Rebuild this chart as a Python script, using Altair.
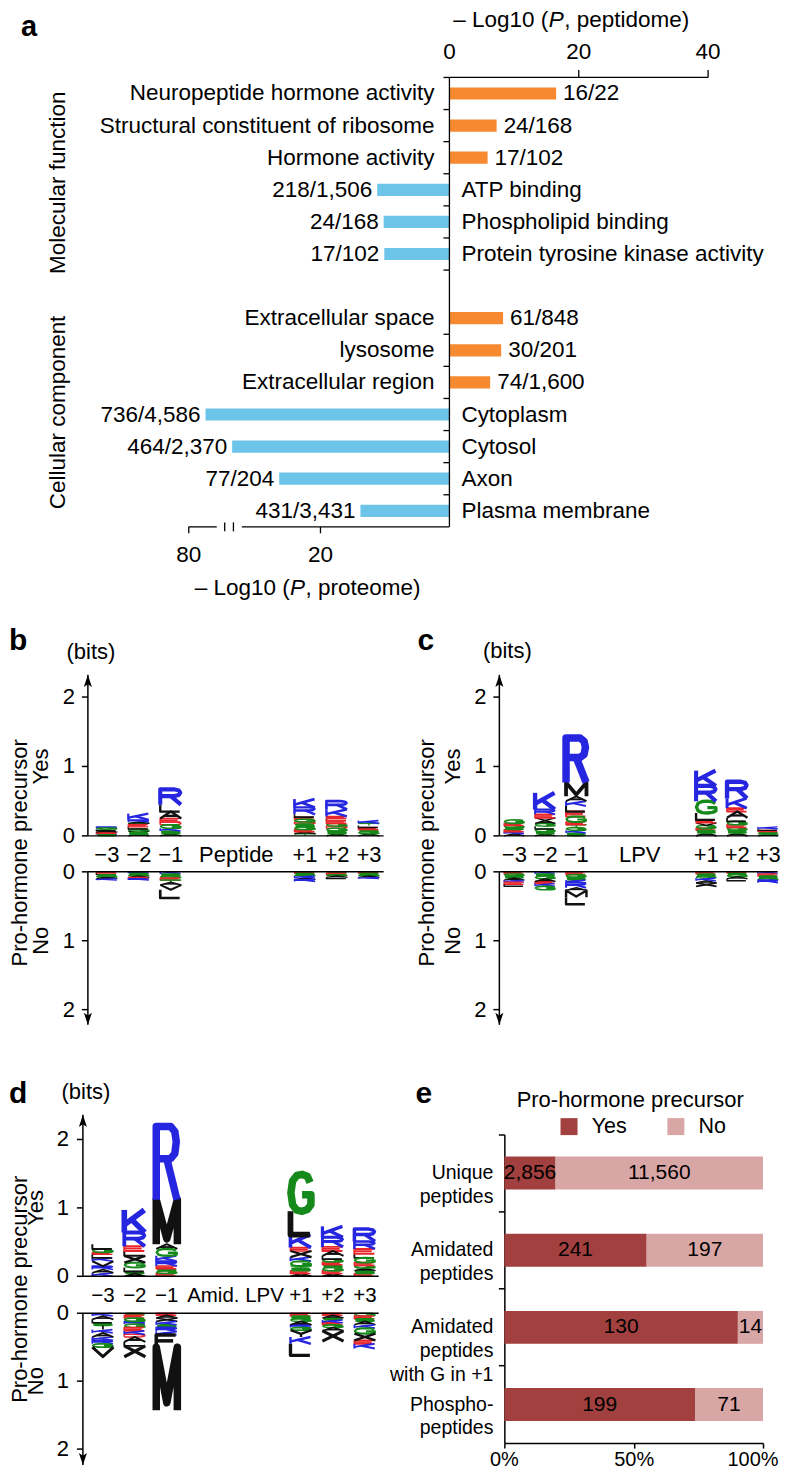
import altair as alt
import numpy as np
import pandas as pd

FONT = "Liberation Sans"
ORANGE = "#f78a30"
BLUE = "#6cc4e8"
YES_C = "#a1403e"
NO_C = "#d9a6a6"

# ---------------- panel a : GO enrichment ----------------
a_terms = ["Neuropeptide hormone activity", "Structural constituent of ribosome", "Hormone activity",
           "ATP binding", "Phospholipid binding", "Protein tyrosine kinase activity",
           "Extracellular space", "lysosome", "Extracellular region",
           "Cytoplasm", "Cytosol", "Axon", "Plasma membrane"]
a_group = ["Molecular function"] * 6 + ["Cellular component"] * 7
a_source = ["peptidome", "peptidome", "peptidome", "proteome", "proteome", "proteome",
            "peptidome", "peptidome", "peptidome", "proteome", "proteome", "proteome", "proteome"]
a_logp = [16.5, 7.3, 5.9, 11.2, 10.2, 10.1, 8.3, 8.0, 6.3, 74.0, 33.7, 26.4, 13.8]
a_count = ["16/22", "24/168", "17/102", "218/1,506", "24/168", "17/102",
           "61/848", "30/201", "74/1,600", "736/4,586", "464/2,370", "77/204", "431/3,431"]
a_top_ticks = [0, 20, 40]
a_bottom_ticks = [80, 20]

# ---------------- panels b-d : sequence logos (letter, bits), from the zero line outwards ----------------
b_yes = {
    "-3": [("S", .02), ("K", .015), ("E", .02), ("A", .02), ("L", .02), ("G", .02), ("R", .015)],
    "-2": [("A", .02), ("S", .03), ("V", .02), ("G", .03), ("L", .03), ("E", .03), ("T", .02), ("A", .02), ("R", .03), ("K", .09)],
    "-1": [("A", .03), ("S", .04), ("K", .04), ("G", .05), ("D", .04), ("E", .05), ("A", .1), ("L", .1), ("R", .22)],
    "+1": [("T", .03), ("A", .03), ("E", .03), ("G", .04), ("S", .04), ("D", .03), ("G", .04), ("E", .03), ("L", .04), ("R", .1), ("K", .12)],
    "+2": [("A", .03), ("S", .04), ("G", .04), ("D", .03), ("G", .04), ("E", .04), ("L", .03), ("E", .03), ("K", .1), ("R", .12)],
    "+3": [("A", .03), ("G", .03), ("S", .03), ("E", .03), ("L", .03), ("T", .03), ("K", .04)],
}
b_no = {
    "-3": [("E", .02), ("L", .02), ("S", .02), ("G", .02), ("A", .02), ("K", .02)],
    "-2": [("K", .02), ("S", .02), ("G", .02), ("A", .02), ("E", .02), ("R", .02)],
    "-1": [("K", .03), ("S", .03), ("G", .03), ("E", .03), ("T", .03), ("A", .04), ("V", .07), ("L", .12)],
    "+1": [("E", .02), ("S", .02), ("G", .02), ("K", .03), ("A", .02), ("R", .03)],
    "+2": [("S", .02), ("E", .02), ("G", .02), ("A", .02), ("L", .02)],
    "+3": [("E", .02), ("S", .02), ("G", .02), ("A", .02), ("K", .02)],
}
c_yes = {
    "-3": [("A", .03), ("K", .03), ("E", .03), ("S", .03), ("G", .03), ("E", .03), ("G", .05)],
    "-2": [("A", .03), ("S", .03), ("G", .04), ("L", .04), ("G", .04), ("A", .04), ("V", .04), ("E", .05), ("R", .07), ("K", .24)],
    "-1": [("S", .04), ("K", .04), ("G", .04), ("T", .04), ("E", .04), ("G", .08), ("E", .07), ("L", .08), ("K", .07), ("A", .07), ("M", .2), ("R", .64)],
    "+1": [("A", .04), ("S", .04), ("E", .03), ("G", .04), ("V", .04), ("E", .04), ("L", .1), ("G", .17), ("R", .22), ("K", .22)],
    "+2": [("A", .04), ("S", .04), ("G", .04), ("E", .04), ("G", .05), ("L", .05), ("A", .09), ("E", .05), ("K", .14), ("R", .24)],
    "+3": [("A", .02), ("G", .02), ("S", .02), ("E", .02), ("L", .02), ("K", .03)],
}
c_no = {
    "-3": [("E", .03), ("G", .03), ("S", .03), ("A", .03), ("K", .03), ("E", .03), ("L", .03)],
    "-2": [("K", .03), ("S", .03), ("G", .04), ("A", .04), ("E", .03), ("K", .04), ("G", .05)],
    "-1": [("E", .04), ("G", .04), ("S", .04), ("K", .04), ("R", .07), ("A", .04), ("M", .1), ("L", .1)],
    "+1": [("E", .03), ("S", .03), ("G", .03), ("K", .04), ("A", .03), ("X", .05)],
    "+2": [("E", .02), ("S", .02), ("G", .03), ("A", .03), ("L", .03)],
    "+3": [("K", .03), ("E", .03), ("S", .03), ("G", .03), ("R", .04)],
}
d_yes = {
    "-3": [("K", .05), ("A", .05), ("R", .05), ("V", .07), ("K", .05), ("L", .05), ("E", .03), ("G", .05), ("L", .07)],
    "-2": [("A", .04), ("S", .03), ("L", .06), ("G", .07), ("X", .1), ("L", .07), ("E", .07), ("R", .2), ("K", .33)],
    "-1": [("E", .04), ("G", .04), ("S", .03), ("E", .04), ("R", .07), ("K", .08), ("G", .1), ("A", .07), ("M", .65), ("R", 1.07)],
    "+1": [("A", .04), ("E", .04), ("S", .04), ("T", .03), ("G", .07), ("K", .06), ("X", .09), ("E", .05), ("K", .19), ("L", .34), ("G", .54)],
    "+2": [("A", .04), ("E", .04), ("G", .05), ("S", .04), ("E", .04), ("G", .04), ("L", .05), ("A", .07), ("E", .06), ("R", .14), ("K", .16)],
    "+3": [("E", .04), ("S", .04), ("A", .04), ("G", .04), ("E", .04), ("G", .07), ("L", .06), ("E", .07), ("R", .11), ("R", .18)],
}
d_no = {
    "-3": [("K", .04), ("A", .05), ("L", .05), ("S", .04), ("I", .06), ("K", .05), ("A", .06), ("K", .05), ("R", .05), ("G", .05), ("V", .14)],
    "-2": [("S", .03), ("E", .04), ("G", .05), ("R", .04), ("G", .05), ("E", .05), ("K", .05), ("D", .04), ("A", .07), ("L", .06), ("X", .16)],
    "-1": [("E", .03), ("A", .04), ("X", .05), ("K", .05), ("S", .04), ("R", .06), ("K", .05), ("F", .18), ("M", .93)],
    "+1": [("E", .04), ("S", .04), ("G", .04), ("A", .05), ("R", .04), ("G", .04), ("Y", .1), ("K", .1), ("L", .17)],
    "+2": [("E", .03), ("A", .04), ("S", .03), ("K", .04), ("E", .03), ("G", .04), ("A", .05), ("X", .15)],
    "+3": [("G", .04), ("E", .04), ("S", .04), ("A", .05), ("K", .05), ("G", .08), ("X", .1), ("E", .05), ("K", .07)],
}
bit_ticks = [0, 1, 2]

# ---------------- panel e ----------------
e_cats = ["Unique\npeptides", "Amidated\npeptides", "Amidated\npeptides\nwith G in +1", "Phospho-\npeptides"]
e_yes = [2856, 241, 130, 199]
e_no = [11560, 197, 14, 71]

# ---------------- stroke glyphs for logo letters (unit box) ----------------
GLYPHS = {
    "A": [[(0, 0), (0.5, 1), (1, 0)], [(0.2, 0.38), (0.8, 0.38)]],
    "D": [[(0, 0), (0, 1), (0.5, 1), (0.82, 0.88), (0.97, 0.62), (0.97, 0.38), (0.82, 0.12), (0.5, 0), (0, 0)]],
    "E": [[(0.92, 1), (0, 1), (0, 0), (0.95, 0)], [(0, 0.52), (0.82, 0.52)]],
    "F": [[(0.92, 1), (0, 1), (0, 0)], [(0, 0.52), (0.8, 0.52)]],
    "G": [[(0.93, 0.78), (0.8, 0.95), (0.55, 1), (0.3, 0.97), (0.1, 0.82), (0.02, 0.5), (0.1, 0.18), (0.3, 0.03),
           (0.55, 0), (0.8, 0.05), (0.97, 0.18), (0.97, 0.45), (0.55, 0.45)]],
    "I": [[(0.5, 0), (0.5, 1)]],
    "K": [[(0, 0), (0, 1)], [(0.95, 1), (0.02, 0.36)], [(0.32, 0.6), (0.97, 0)]],
    "L": [[(0, 1), (0, 0), (0.92, 0)]],
    "M": [[(0, 0), (0, 1), (0.5, 0.12), (1, 1), (1, 0)]],
    "R": [[(0, 0), (0, 1), (0.68, 1), (0.88, 0.93), (0.95, 0.79), (0.88, 0.63), (0.68, 0.56), (0, 0.56)],
          [(0.5, 0.56), (0.98, 0)]],
    "S": [[(0.92, 0.85), (0.75, 0.98), (0.5, 1), (0.25, 0.98), (0.07, 0.85), (0.07, 0.65), (0.25, 0.55),
           (0.75, 0.45), (0.93, 0.35), (0.93, 0.15), (0.75, 0.02), (0.5, 0), (0.25, 0.02), (0.05, 0.15)]],
    "T": [[(0, 1), (1, 1)], [(0.5, 1), (0.5, 0)]],
    "V": [[(0, 1), (0.5, 0), (1, 1)]],
    "X": [[(0, 1), (1, 0)], [(0, 0), (1, 1)]],
    "Y": [[(0, 1), (0.5, 0.48), (1, 1)], [(0.5, 0.48), (0.5, 0)]],
}
GAP = 5.2      # column of "+0" (gap between upstream and downstream positions)
LW = 0.66      # letter width, in columns
ARROW_UP = "M0,0L0.6,1.8L0,1.4L-0.6,1.8Z"
ARROW_DOWN = "M0,0L0.6,-1.8L0,-1.4L-0.6,-1.8Z"


def aa_color(a):
    if a in "KRH":
        return "#2626e0"
    if a in "DE":
        return "#e8262b"
    if a in "GSTC":
        return "#16891b"
    return "#111111"


def col_of(pos):
    k = int(pos)
    return 3 + k if k < 0 else GAP + k


def glyph_strokes(stacks, lower):
    rows = []
    for pos, stack in stacks.items():
        col = col_of(pos)
        base = 0.0
        for j, (aa, h) in enumerate(stack):
            y0, y1 = base, base + h
            for s, poly in enumerate(GLYPHS[aa]):
                for o, (u, v) in enumerate(poly):
                    rows.append({"sid": f"{pos}_{j}_{s}", "o": o,
                                 "x": col + (u - 0.5) * LW,
                                 "y": (y1 - v * h) if lower else (y0 + v * h),
                                 "c": aa_color(aa), "h": h})
            base = y1
    return pd.DataFrame(rows)


def note(text, x, y, size=22, **kw):
    return alt.Chart(pd.DataFrame({"t": [text]})).mark_text(fontSize=size, **kw).encode(
        x=alt.value(x), y=alt.value(y), text="t:N")


def frame(w, h):
    # invisible box that makes the panel's bounds equal to its own area
    return alt.Chart(pd.DataFrame({"t": [0]})).mark_rect(opacity=0).encode(
        x=alt.value(0), x2=alt.value(w), y=alt.value(0), y2=alt.value(h))


# ======================= panel a =======================
FA = 22.5
W_A, H_A = 772, 596
row_order = a_terms[:6] + [""] + a_terms[6:]
dfA = pd.DataFrame(dict(term=a_terms, group=a_group, source=a_source, logp=a_logp, count=a_count))
dfA["row"] = [row_order.index(t) for t in a_terms]
dfA["v"] = np.where(dfA.source == "peptidome", dfA.logp, -dfA.logp)
dfA["zero"] = 0.0
top_edge, bot_edge = -0.5, len(row_order) - 0.5

xsA = dict(domain=[-80, -70, -34, 0, 40], range=[180, 208, 221.5, 441, 700], nice=False, zero=False)
ysA = dict(domain=[top_edge, bot_edge], range=[68.6, 518.6], nice=False, zero=False)
TICK_A = 6 / 6.456


def XA(f):
    return alt.X(f, type="quantitative", scale=alt.Scale(**xsA), axis=None)


def YA(f):
    return alt.Y(f, type="quantitative", scale=alt.Scale(**ysA), axis=None)


baseA = alt.Chart(dfA)
barsA = baseA.transform_calculate(y0="datum.row - 0.19", y1="datum.row + 0.19").mark_rect().encode(
    x=XA("zero"), x2="v", y=YA("y0"), y2="y1",
    color=alt.Color("source:N", scale=alt.Scale(domain=["peptidome", "proteome"], range=[ORANGE, BLUE]), legend=None))
pep = baseA.transform_filter("datum.source == 'peptidome'")
pro = baseA.transform_filter("datum.source == 'proteome'")
lab1 = pep.mark_text(align="right", dx=-15, fontSize=FA).encode(x=XA("zero"), y=YA("row"), text="term:N")
lab2 = pep.mark_text(align="left", dx=7, fontSize=FA).encode(x=XA("v"), y=YA("row"), text="count:N")
lab3 = pro.mark_text(align="left", dx=12, fontSize=FA).encode(x=XA("zero"), y=YA("row"), text="term:N")
lab4 = pro.mark_text(align="right", dx=-5, fontSize=FA).encode(x=XA("v"), y=YA("row"), text="count:N")

spineA = alt.Chart(pd.DataFrame({"x": [0.0], "y": [top_edge], "y2": [bot_edge]})).mark_rule(
    color="black", strokeWidth=1.3).encode(x=XA("x"), y=YA("y"), y2="y2")
bounds = [top_edge] + [r + 0.5 for r in dfA.row if r + 0.5 < bot_edge]
ticksA = alt.Chart(pd.DataFrame({"y": bounds, "x": 0.0, "x2": -TICK_A})).mark_rule(
    color="black", strokeWidth=1.3).encode(x=XA("x"), x2="x2", y=YA("y"))
topline = alt.Chart(pd.DataFrame({"x": [min(a_top_ticks)], "x2": [max(a_top_ticks)], "y": [top_edge]})).mark_rule(
    color="black", strokeWidth=1.3).encode(x=XA("x"), x2="x2", y=YA("y"))
toptk = alt.Chart(pd.DataFrame({"x": [t for t in a_top_ticks if t != 0], "y": top_edge, "y2": top_edge - 0.236})).mark_rule(
    color="black", strokeWidth=1.3).encode(x=XA("x"), y=YA("y"), y2="y2")
toplab = alt.Chart(pd.DataFrame({"x": a_top_ticks, "lab": [str(t) for t in a_top_ticks], "y": -1.297})).mark_text(
    fontSize=FA).encode(x=XA("x"), y=YA("y"), text="lab:N")
botline = alt.Chart(pd.DataFrame({"x": [-80.0, -32.2], "x2": [-70.0, 0.0], "y": bot_edge})).mark_rule(
    color="black", strokeWidth=1.3).encode(x=XA("x"), x2="x2", y=YA("y"))
bottk = alt.Chart(pd.DataFrame({"x": [-t for t in a_bottom_ticks], "y": bot_edge, "y2": bot_edge + 0.2})).mark_rule(
    color="black", strokeWidth=1.3).encode(x=XA("x"), y=YA("y"), y2="y2")
brk = alt.Chart(pd.DataFrame({"x": [-48.7, -33.5], "y": bot_edge - 0.14, "y2": bot_edge + 0.14})).mark_rule(
    color="black", strokeWidth=1.3).encode(x=XA("x"), y=YA("y"), y2="y2")
botlab = alt.Chart(pd.DataFrame({"x": [-t for t in a_bottom_ticks], "lab": [str(t) for t in a_bottom_ticks], "y": 14.385})).mark_text(
    fontSize=FA).encode(x=XA("x"), y=YA("y"), text="lab:N")


def axis_title(pcx, y, rest):
    return [note("– Log10 (", pcx, y, FA, align="right", dx=-8),
            note("P", pcx, y, FA, fontStyle="italic"),
            note(rest, pcx, y, FA, align="left", dx=8)]


A = alt.layer(
    frame(W_A, H_A),
    barsA, lab1, lab2, lab3, lab4, spineA, ticksA, topline, toptk, toplab, botline, bottk, brk, botlab,
    *axis_title(548, 11.5, ", peptidome)"), *axis_title(289, 580, ", proteome)"),
    note("Molecular function", 49, 174, FA, angle=270),
    note("Cellular component", 49, 404, FA, angle=270),
    note("a", 12, 27, 29, align="left", baseline="alphabetic", fontWeight="bold"),
).resolve_scale(x="independent", y="independent", color="independent").properties(width=W_A, height=H_A)


# ======================= panels b, c, d =======================
def sw_of(h):
    # stroke weight of a logo glyph grows with its height, like a filled glyph
    return float(min(7.5, max(1.0, 1.0 + 14.0 * h)))


def logo_panel(yes, no, center_label, L):
    xs = alt.Scale(domain=[0, 8], range=[L["col0"], L["col0"] + 8 * L["ppc"]], nice=False, zero=False)
    yu = alt.Scale(domain=[0, 2], range=L["yU"], nice=False, zero=False)
    yl = alt.Scale(domain=[0, 2], range=L["yL"], nice=False, zero=False)

    def X(f):
        return alt.X(f, type="quantitative", scale=xs, axis=None)

    def YU(f):
        return alt.Y(f, type="quantitative", scale=yu, axis=None)

    def YL(f):
        return alt.Y(f, type="quantitative", scale=yl, axis=None)

    clip = L["clip"]
    ax = L["axis"]
    tick = 6.0 / L["ppc"]
    layers = [frame(L["W"], L["H"])]
    for stacks, lower, Y in ((yes, False, YU), (no, True, YL)):
        df = glyph_strokes(stacks, lower)
        for w in sorted(df.h.unique()):
            sub = df[df.h == w]
            layers.append(alt.Chart(sub).mark_line(
                strokeJoin="round", strokeCap="butt", clip=clip, strokeWidth=sw_of(w)).encode(
                x=X("x"), y=Y("y"), detail="sid:N", order="o:Q",
                color=alt.Color("c:N", scale=None, legend=None)))
    for Y, tip, shape in ((YU, L["tipU"], ARROW_UP), (YL, L["tipL"], ARROW_DOWN)):
        spine = pd.DataFrame({"x": [ax], "y": [0.0], "tip": [tip]})
        layers.append(alt.Chart(spine).mark_rule(color="black", strokeWidth=1.5).encode(x=X("x"), y=Y("y"), y2="tip"))
        layers.append(alt.Chart(spine).mark_point(shape=shape, filled=True, size=180, color="black", opacity=1,
                                                  strokeWidth=0).encode(x=X("x"), y=Y("tip")))
        tk = pd.DataFrame({"v": bit_ticks, "x": ax - tick, "x2": ax, "lab": [str(v) for v in bit_ticks]})
        layers.append(alt.Chart(tk).mark_rule(color="black", strokeWidth=1.5).encode(x=X("x"), x2="x2", y=Y("v")))
        layers.append(alt.Chart(tk).mark_text(fontSize=22, dx=L["lab_dx"]).encode(x=X("x2"), y=Y("v"), text="lab:N"))
        zl = pd.DataFrame({"x": [ax], "x2": [L["end"]], "y": [0.0]})
        layers.append(alt.Chart(zl).mark_rule(color="black", strokeWidth=1.5, clip=clip).encode(x=X("x"), x2="x2", y=Y("y")))
    pos_lab = ["−3", "−2", "−1", center_label, "+1", "+2", "+3"]
    pos_x = [col_of("-3"), col_of("-2"), col_of("-1"), L["mid"], col_of("+1"), col_of("+2"), col_of("+3")]
    layers.append(alt.Chart(pd.DataFrame({"lab": pos_lab, "x": pos_x, "y": L["lab_y"]})).mark_text(
        fontSize=L["lab_fs"], clip=clip).encode(x=X("x"), y=YU("y"), text="lab:N"))
    layers.append(alt.Chart(pd.DataFrame({"t": ["Yes"], "y": [1.0]})).mark_text(angle=270, fontSize=22).encode(
        x=alt.value(L["yn_x"]), y=YU("y"), text="t:N"))
    layers.append(alt.Chart(pd.DataFrame({"t": ["No"], "y": [1.0]})).mark_text(angle=270, fontSize=22).encode(
        x=alt.value(L["yn_x"]), y=YL("y"), text="t:N"))
    lt, lx, ly = L["letter"]
    layers.append(note(lt, lx, ly, 30, align="left", baseline="alphabetic", fontWeight="bold"))
    layers.append(note("(bits)", L["bits"][0], L["bits"][1], 22))
    layers.append(note("Pro-hormone precursor", L["proh"][0], L["proh"][1], 22, angle=270))
    return alt.layer(*layers).resolve_scale(
        x="independent", y="independent", color="independent"
    ).properties(width=L["W"], height=L["H"])


W_HALF, H_2, H_3 = 386, 426, 440
LB = dict(col0=98, ppc=32, axis=-0.594, end=8.66, yU=[232, 93], yL=[268, 406], tipU=2.32, tipL=2.22,
          lab_y=-0.273, lab_dx=-19, lab_fs=22, mid=4.05, letter=("b", 0, 46), bits=(82, 48), proh=(11, 249),
          yn_x=32, clip=False, W=W_HALF, H=H_2)
LC = dict(col0=120, ppc=31, axis=-0.484, end=8.5, yU=[232, 93], yL=[268, 406], tipU=2.32, tipL=2.22,
          lab_y=-0.273, lab_dx=-19, lab_fs=22, mid=4.05, letter=("c", 23, 46), bits=(113, 47), proh=(33, 249),
          yn_x=59, clip=True, W=W_HALF, H=H_2)
LD = dict(col0=94, ppc=32, axis=-0.625, end=8.63, yU=[247, 110], yL=[284, 420], tipU=2.36, tipL=2.235,
          lab_y=-0.292, lab_dx=-20, lab_fs=20.5, mid=4.15, letter=("d", 0, 73), bits=(77, 62), proh=(11, 260),
          yn_x=27, clip=False, W=W_HALF, H=H_3)

B = logo_panel(b_yes, b_no, "Peptide", LB)
C = logo_panel(c_yes, c_no, "LPV", LC)
D = logo_panel(d_yes, d_no, "Amid. LPV", LD)

# ======================= panel e =======================
E_TOP, E_BOT = 105, 414
dfE = pd.DataFrame({"cat": e_cats * 2, "ans": ["Yes"] * 4 + ["No"] * 4, "n": e_yes + e_no, "ord": [0] * 4 + [1] * 4})
xsE = dict(domain=[0, 1], range=[110, 369], nice=False, zero=False)
ysE = dict(domain=e_cats, range=[E_TOP, E_BOT], paddingInner=0, paddingOuter=0)
stackE = alt.Chart(dfE).transform_stack(stack="n", groupby=["cat"], as_=["s0", "s1"], offset="normalize",
                                        sort=[alt.SortField("ord", order="ascending")])
barsE = stackE.mark_bar(size=33).encode(
    x=alt.X("s0:Q", scale=alt.Scale(**xsE), axis=alt.Axis(
        orient="bottom", offset=-(H_3 - E_BOT), values=[0, 0.5, 1], format="%", tickSize=5, tickWidth=1.5,
        domainWidth=1.5, domainColor="black", tickColor="black", labelFontSize=20, labelPadding=1,
        labelColor="black", labelFlush=True, labelFlushOffset=15, grid=False, title=None)),
    x2="s1",
    y=alt.Y("cat:N", scale=alt.Scale(**ysE), axis=alt.Axis(
        orient="left", offset=-110, labels=False, bandPosition=0, tickSize=6, tickWidth=1.5, domainWidth=1.5,
        domainColor="black", tickColor="black", grid=False, title=None)),
    color=alt.Color("ans:N", scale=alt.Scale(domain=["Yes", "No"], range=[YES_C, NO_C]), legend=alt.Legend(
        orient="none", legendX=164, legendY=86, direction="horizontal", title=None, symbolType="square",
        symbolSize=289, symbolStrokeWidth=0, symbolOpacity=1, labelFontSize=21.5, labelOffset=12,
        columnPadding=38, padding=0, labelColor="black")),
)
valsE = stackE.transform_calculate(mid="(datum.s0 + datum.s1) / 2", lab="format(datum.n, ',')").mark_text(
    fontSize=21).encode(x=alt.X("mid:Q", scale=alt.Scale(**xsE), axis=None),
                        y=alt.Y("cat:N", scale=alt.Scale(**ysE), axis=None), text="lab:N")
catsE = alt.Chart(pd.DataFrame({"cat": e_cats, "zero": 0.0})).mark_text(
    align="right", dx=-11, lineBreak="\n", lineHeight=24, fontSize=19.5).encode(
    x=alt.X("zero:Q", scale=alt.Scale(**xsE), axis=None),
    y=alt.Y("cat:N", scale=alt.Scale(**ysE), axis=None), text="cat:N")
E = alt.layer(
    frame(W_HALF, H_3),
    barsE, valsE, catsE,
    note("Pro-hormone precursor", 236, 70, 22),
    note("e", 21, 73, 30, align="left", baseline="alphabetic", fontWeight="bold"),
).resolve_scale(x="independent", y="independent").properties(width=W_HALF, height=H_3)

row2 = alt.hconcat(B, C, spacing=0, bounds="flush").resolve_scale(color="independent")
row3 = alt.hconcat(D, E, spacing=0, bounds="flush").resolve_scale(color="independent")
chart = alt.vconcat(A, row2, row3, spacing=0, padding=0).resolve_scale(
    color="independent").configure(font=FONT).configure_view(stroke=None).configure_axis(
    labelFont=FONT, labelColor="black")

chart.save("out.html", embed_options={"renderer": "svg", "actions": False})
